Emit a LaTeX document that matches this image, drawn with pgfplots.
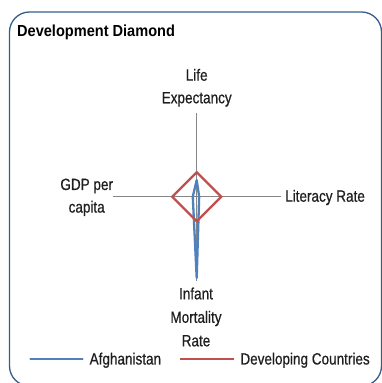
\documentclass[border=0pt]{standalone}
\usepackage{fontspec}
\setmainfont{Liberation Sans}[FakeStretch=0.83, FakeBold=0.6]
\newfontfamily\titlefont{Liberation Sans}[FakeStretch=0.91]
\usepackage{pgfplots}
\pgfplotsset{compat=1.18}
\definecolor{afg}{RGB}{79,129,189}
\definecolor{dev}{RGB}{192,80,77}
\definecolor{axgray}{RGB}{134,134,134}
\definecolor{framec}{RGB}{56,93,138}
\definecolor{txt}{RGB}{30,30,30}
\begin{document}
\begin{tikzpicture}[x=1pt,y=1pt]
\useasboundingbox (0,0) rectangle (382,383);
\draw[framec, line width=1.3pt, rounded corners=20pt] (9.5,371) rectangle (381.5,-3);
\node[anchor=base west, inner sep=0pt, font=\titlefont\bfseries\fontsize{16}{20}\selectfont] at (17,346.3) {Development Diamond};
\begin{axis}[at={(112.7pt,102.3pt)}, anchor=south west, width=168pt, height=168pt, scale only axis,
  xmin=-3.43, xmax=3.43, ymin=-3.43, ymax=3.43,
  axis lines=middle, axis line style={axgray, line width=0.9pt, -},
  xtick=\empty, ytick=\empty, clip=false,
  legend columns=2,
  legend image code/.code={\draw[#1] (0pt,0pt) -- (52pt,0pt);},
  legend style={at={(axis description cs:0.517,-0.468)}, anchor=center, draw=none, fill=none,
    inner sep=0pt, outer sep=0pt, font=\fontsize{16.3}{20}\selectfont, text=txt,
    /tikz/every odd column/.style={column sep=6pt},
    /tikz/every even column/.style={column sep=19pt},
    nodes={inner sep=0pt}}]
\addplot[afg, line width=2.3pt, line join=round, line cap=round] coordinates {(0,0.68) (0.1,0) (0,-3.32) (-0.16,0) (0,0.68)};
\addplot[dev, line width=2.3pt, line join=miter, line cap=rect] coordinates {(0,1) (1,0) (0,-1) (-1,0) (0,1)};
\legend{Afghanistan, Developing Countries}
\end{axis}
\begin{scope}[every node/.style={inner sep=0pt, text=txt, font=\fontsize{16.3}{20}\selectfont}]
\node[anchor=base] at (196.7,302.3) {Life};
\node[anchor=base] at (196.7,279.7) {Expectancy};
\node[anchor=base west] at (285,181.3) {Literacy Rate};
\node[anchor=base] at (86.7,193) {GDP per};
\node[anchor=base] at (86.7,170.4) {capita};
\node[anchor=base] at (196,83.7) {Infant};
\node[anchor=base] at (196,60.2) {Mortality};
\node[anchor=base] at (196,36.7) {Rate};
\end{scope}
\end{tikzpicture}
\end{document}
